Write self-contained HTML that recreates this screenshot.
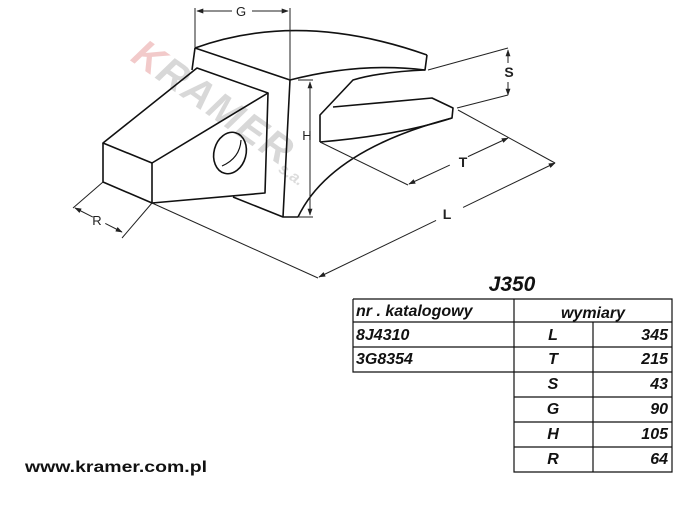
<!DOCTYPE html>
<html><head><meta charset="utf-8"><style>
html,body{margin:0;padding:0;background:#fff;}
svg{display:block;}
.t{font-family:"Liberation Sans",Arial,sans-serif;font-weight:bold;font-style:italic;font-size:16px;fill:#111;}
</style></head><body>
<svg width="690" height="507" viewBox="0 0 690 507" xmlns="http://www.w3.org/2000/svg">
<defs>
<marker id="a" viewBox="0 0 10 10" refX="9" refY="5" markerWidth="7" markerHeight="7" orient="auto-start-reverse"><path d="M0,1.5 L10,5 L0,8.5 z" fill="#222"/></marker>
</defs>
<!-- watermark -->
<g transform="translate(142,42) rotate(35)" font-family="Liberation Sans,Arial,sans-serif" font-weight="bold" font-style="italic">
<text x="0" y="22" font-size="40" fill="#eaa8a8" opacity="0.6">K</text>
<text x="30" y="22" font-size="40" fill="#aaa" opacity="0.45" letter-spacing="2">RAMER</text>
<text x="185" y="28" font-size="16" fill="#bbb" opacity="0.5">s.a.</text>
</g>
<g fill="none" stroke="#111" stroke-width="1.6" stroke-linejoin="round">
<path d="M195,48 Q300,10 427,55"/>
<path d="M195,48 L290,80 Q360,62 425,70 L427,55"/>
<path d="M290,80 L283,217 L298,217"/>
<path d="M195,48 L192,70"/>
<path d="M425,70 Q380,72 353,80 L320,115 L320,142"/>
<path d="M333,107 L432,98 L453,108 L452,118 Q400,135 320,142"/>
<path d="M452,118 Q330,150 298,217"/>
<path d="M103,143 L197,68 L268,93 L152,163 Z"/>
<path d="M103,143 L103,182 L152,203 L152,163"/>
<path d="M152,203 L265,193 L268,93"/>
<path d="M233,197 L283,217"/>
<ellipse cx="230" cy="153" rx="16" ry="21" transform="rotate(15 230 153)"/>
<path d="M222,166 Q240,158 241,140" stroke-width="1.2"/>
</g>
<g stroke="#222" stroke-width="1" fill="none">
<path d="M195,8 L195,48 M290,8 L290,80"/>
<path d="M197,11 L288,11" marker-start="url(#a)" marker-end="url(#a)" stroke-dasharray="35 20 40"/>
<path d="M298,80 L313,80 M298,217 L313,217"/>
<path d="M310,82 L310,215" marker-start="url(#a)" marker-end="url(#a)"/>
<path d="M428,70 L508,48 M457,108 L508,95"/>
<path d="M508,50 L508,95" marker-start="url(#a)" marker-end="url(#a)" stroke-dasharray="13 19 13"/>
<path d="M320,142 L408,185"/>
<path d="M409,184 L508,138" marker-start="url(#a)" marker-end="url(#a)" stroke-dasharray="45 20 60"/>
<path d="M458,110 L555,163 M152,203 L318,278"/>
<path d="M319,277 L555,163" marker-start="url(#a)" marker-end="url(#a)" stroke-dasharray="130 30 150"/>
<path d="M103,182 L73,208 M152,203 L122,238"/>
<path d="M75,208 L122,232" marker-start="url(#a)" marker-end="url(#a)" stroke-dasharray="20 14 30"/>
</g>
<g font-family="Liberation Sans,Arial,sans-serif" font-size="13" fill="#222" text-anchor="middle">
<text x="241" y="16">G</text>
<text x="307" y="140">H</text>
<text x="509" y="77" font-weight="bold" font-size="14">S</text>
<text x="463" y="167" font-weight="bold" font-size="14">T</text>
<text x="447" y="219" font-weight="bold" font-size="14">L</text>
<text x="97" y="225">R</text>
</g>
<text x="512" y="291" text-anchor="middle" font-family="Liberation Sans,Arial,sans-serif" font-weight="bold" font-style="italic" font-size="21" fill="#111">J350</text>
<g stroke="#111" stroke-width="1.2" fill="none">
<path d="M353,299 H672 V472 H514 V299 M353,299 V372 H514 M353,322 H672 M353,347 H514 M514,347 H672 M514,372 H672 M514,397 H672 M514,422 H672 M514,447 H672 M593,322 V472"/>
</g>
<text class="t" x="356" y="316">nr .  katalogowy</text>
<text class="t" x="593" y="318" text-anchor="middle">wymiary</text>
<text class="t" x="356" y="340">8J4310</text>
<text class="t" x="356" y="364">3G8354</text>
<text class="t" x="553" y="340" text-anchor="middle">L</text>
<text class="t" x="553" y="364" text-anchor="middle">T</text>
<text class="t" x="553" y="389" text-anchor="middle">S</text>
<text class="t" x="553" y="414" text-anchor="middle">G</text>
<text class="t" x="553" y="439" text-anchor="middle">H</text>
<text class="t" x="553" y="464" text-anchor="middle">R</text>
<text class="t" x="668" y="340" text-anchor="end">345</text>
<text class="t" x="668" y="364" text-anchor="end">215</text>
<text class="t" x="668" y="389" text-anchor="end">43</text>
<text class="t" x="668" y="414" text-anchor="end">90</text>
<text class="t" x="668" y="439" text-anchor="end">105</text>
<text class="t" x="668" y="464" text-anchor="end">64</text>
<text x="25" y="472" font-family="Liberation Sans,Arial,sans-serif" font-weight="bold" font-size="16" fill="#111" textLength="182" lengthAdjust="spacingAndGlyphs">www.kramer.com.pl</text>
</svg>
</body></html>
